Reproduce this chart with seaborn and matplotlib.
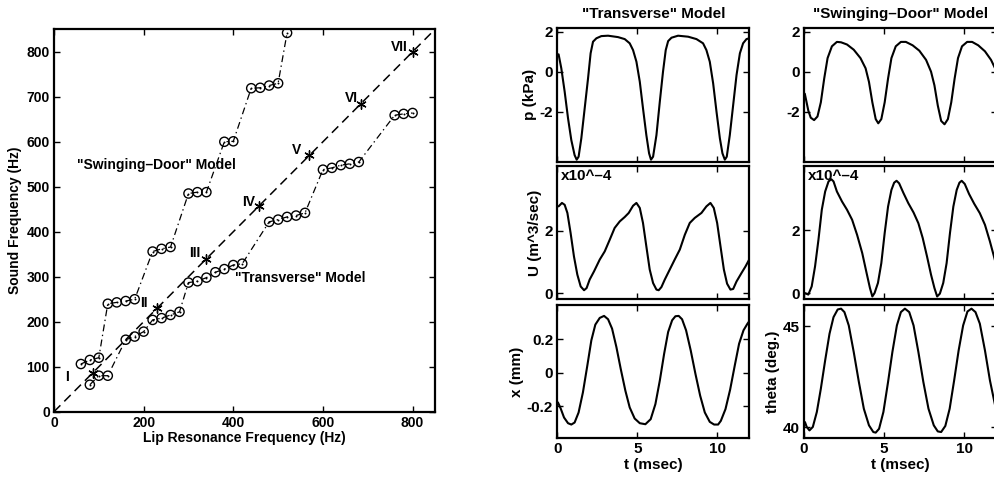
import matplotlib
matplotlib.use("Agg")
import matplotlib.pyplot as plt
import seaborn as sns

# ---------------- lip resonance vs. sound frequency ----------------
door_lip = [60, 80, 100, 120, 140, 160, 180, 220, 240, 260, 300, 320, 340,
            380, 400, 440, 460, 480, 500, 520]
door_sound = [106, 115, 120, 240, 243, 246, 250, 356, 362, 366, 485, 488, 488,
              600, 601, 719, 720, 725, 730, 842]

trans_lip = [80, 100, 120, 160, 180, 200, 220, 240, 260, 280, 300, 320, 340,
             360, 380, 400, 420, 480, 500, 520, 540, 560, 600, 620, 640, 660,
             680, 760, 780, 800]
trans_sound = [60, 80, 80, 160, 167, 178, 204, 208, 215, 222, 287, 290, 298,
               310, 317, 326, 329, 422, 427, 433, 436, 442, 538, 542, 548, 551,
               555, 659, 662, 664]

mode_freq = [87, 230, 340, 457, 570, 685, 800]
mode_names = ["I", "II", "III", "IV", "V", "VI", "VII"]
diag_hz = [0, 850]

# ---------------- "Transverse" model waveforms ----------------
p_trans_t = [0.08, 0.25, 0.46, 0.67, 0.875, 1.08, 1.21, 1.33, 1.5, 1.71, 1.92,
             2.08, 2.23, 2.44, 2.75, 3.17, 3.79, 4.21, 4.52, 4.73, 4.94, 5.15,
             5.35, 5.56, 5.73, 5.85, 5.98, 6.19, 6.4, 6.6, 6.77, 6.92, 7.13,
             7.54, 8.17, 8.69, 9.1, 9.31, 9.52, 9.73, 9.94, 10.15, 10.31,
             10.46, 10.58, 10.77, 10.98, 11.19, 11.4, 11.6, 11.81, 11.98]
p_trans = [0.87, 0.17, -1.0, -2.33, -3.42, -4.17, -4.4, -4.25, -3.33, -1.83,
           -0.33, 0.92, 1.5, 1.67, 1.78, 1.8, 1.73, 1.63, 1.42, 1.08, 0.5,
           -0.5, -1.83, -3.17, -4.08, -4.4, -4.25, -3.17, -1.5, 0.0, 1.08,
           1.53, 1.7, 1.8, 1.75, 1.63, 1.42, 1.08, 0.5, -0.58, -2.0, -3.33,
           -4.08, -4.4, -4.25, -3.17, -1.67, -0.17, 0.92, 1.42, 1.63, 1.67]

u_trans_t = [0.08, 0.29, 0.46, 0.63, 0.83, 1.04, 1.25, 1.46, 1.67, 1.83, 2.02,
             2.29, 2.65, 2.96, 3.27, 3.58, 3.9, 4.21, 4.46, 4.73, 4.94, 5.15,
             5.35, 5.56, 5.77, 5.98, 6.19, 6.33, 6.5, 6.71, 7.02, 7.33, 7.65,
             7.96, 8.27, 8.58, 9.0, 9.31, 9.56, 9.77, 9.98, 10.19, 10.4, 10.6,
             10.81, 10.98, 11.19, 11.5, 11.75, 11.98]
u_trans = [2.78, 2.89, 2.83, 2.57, 1.93, 1.18, 0.6, 0.22, 0.1, 0.17, 0.44,
           0.7, 1.08, 1.34, 1.71, 2.09, 2.3, 2.44, 2.57, 2.8, 2.89, 2.73, 2.25,
           1.5, 0.76, 0.33, 0.12, 0.1, 0.2, 0.44, 0.76, 1.08, 1.4, 1.87, 2.25,
           2.41, 2.57, 2.78, 2.89, 2.73, 2.25, 1.5, 0.76, 0.31, 0.12, 0.14,
           0.38, 0.65, 0.86, 1.08]

x_trans_t = [0.04, 0.21, 0.42, 0.67, 0.875, 1.08, 1.33, 1.6, 1.875, 2.125,
             2.375, 2.65, 2.92, 3.17, 3.42, 3.69, 3.96, 4.25, 4.52, 4.83, 5.15,
             5.5, 5.83, 6.125, 6.4, 6.67, 6.92, 7.17, 7.375, 7.58, 7.79, 8.04,
             8.33, 8.625, 8.92, 9.21, 9.52, 9.79, 10.04, 10.21, 10.5, 10.79,
             11.08, 11.35, 11.625, 11.875, 12.0]
x_trans = [-0.176, -0.212, -0.266, -0.3, -0.308, -0.296, -0.236, -0.116,
           0.044, 0.194, 0.288, 0.328, 0.34, 0.32, 0.264, 0.154, 0.024,
           -0.106, -0.206, -0.272, -0.3, -0.306, -0.276, -0.186, -0.046,
           0.114, 0.244, 0.314, 0.338, 0.34, 0.32, 0.254, 0.134, -0.006,
           -0.136, -0.236, -0.292, -0.308, -0.308, -0.286, -0.216, -0.1,
           0.044, 0.174, 0.254, 0.294, 0.31]

# ---------------- "Swinging-Door" model waveforms ----------------
p_door_t = [0.05, 0.27, 0.42, 0.63, 0.84, 1.05, 1.26, 1.47, 1.74, 2.05, 2.31,
            2.68, 3.1, 3.52, 3.84, 4.05, 4.26, 4.47, 4.63, 4.82, 5.03, 5.24,
            5.45, 5.72, 6.04, 6.35, 6.77, 7.19, 7.61, 7.92, 8.13, 8.34, 8.55,
            8.76, 8.97, 9.18, 9.39, 9.6, 9.85, 10.17, 10.48, 10.86, 11.28,
            11.66, 11.91, 12.0]
p_door = [-1.1, -1.95, -2.3, -2.42, -2.24, -1.53, -0.34, 0.68, 1.27, 1.49,
          1.47, 1.36, 1.1, 0.68, 0.17, -0.51, -1.53, -2.37, -2.58, -2.37,
          -1.53, -0.34, 0.68, 1.27, 1.49, 1.49, 1.32, 1.05, 0.59, 0.0, -0.68,
          -1.69, -2.46, -2.63, -2.37, -1.53, -0.34, 0.68, 1.27, 1.49, 1.49,
          1.32, 1.02, 0.59, 0.17, -0.03]

u_door_t = [0.04, 0.27, 0.48, 0.69, 0.9, 1.11, 1.32, 1.53, 1.7, 1.84, 2.05,
            2.37, 2.68, 3.0, 3.31, 3.63, 3.9, 4.11, 4.26, 4.4, 4.61, 4.82,
            5.03, 5.24, 5.45, 5.62, 5.77, 5.93, 6.2, 6.5, 6.83, 7.13, 7.4,
            7.67, 7.92, 8.13, 8.3, 8.47, 8.68, 8.89, 9.1, 9.31, 9.52, 9.69,
            9.83, 10.02, 10.29, 10.61, 10.96, 11.28, 11.59, 11.87, 12.0]
u_door = [0.01, -0.04, 0.22, 0.86, 1.7, 2.66, 3.24, 3.56, 3.63, 3.56, 3.24,
          2.92, 2.66, 2.34, 1.86, 1.28, 0.65, 0.17, -0.1, 0.01, 0.33, 0.96,
          1.92, 2.76, 3.29, 3.52, 3.58, 3.5, 3.19, 2.87, 2.57, 2.23, 1.76,
          1.17, 0.59, 0.17, -0.1, -0.01, 0.33, 0.96, 1.92, 2.76, 3.29, 3.52,
          3.58, 3.48, 3.16, 2.85, 2.55, 2.18, 1.65, 1.12, 0.86]

theta_door_t = [0.06, 0.17, 0.34, 0.55, 0.8, 1.05, 1.32, 1.59, 1.84, 2.1,
                2.31, 2.52, 2.79, 3.1, 3.42, 3.73, 4.05, 4.32, 4.47, 4.68,
                4.95, 5.24, 5.51, 5.79, 6.04, 6.29, 6.56, 6.83, 7.13, 7.44,
                7.76, 8.09, 8.34, 8.55, 8.81, 9.08, 9.36, 9.64, 9.92, 10.19,
                10.44, 10.69, 10.96, 11.28, 11.59, 11.87, 12.0]
theta_door = [40.26, 40.02, 39.85, 40.02, 40.76, 41.91, 43.31, 44.62, 45.44,
              45.82, 45.86, 45.69, 45.03, 43.72, 42.24, 40.92, 40.1, 39.77,
              39.74, 39.93, 40.76, 42.24, 43.72, 45.03, 45.69, 45.86, 45.69,
              45.03, 43.72, 42.24, 40.92, 40.1, 39.8, 39.77, 40.07, 40.92,
              42.32, 43.8, 45.03, 45.72, 45.86, 45.69, 45.12, 43.8, 42.32,
              41.25, 40.76]

# ---------------- styling ----------------
sns.set_theme(style="ticks")
plt.rcParams["font.family"] = ["Liberation Sans", "DejaVu Sans"]
plt.rcParams["font.weight"] = "bold"
plt.rcParams["axes.labelweight"] = "bold"
plt.rcParams["axes.unicode_minus"] = False
plt.rcParams["axes.linewidth"] = 1.6
plt.rcParams["axes.edgecolor"] = "black"
plt.rcParams["lines.scale_dashes"] = False
plt.rcParams["text.color"] = "black"
plt.rcParams["axes.labelcolor"] = "black"
plt.rcParams["xtick.color"] = "black"
plt.rcParams["ytick.color"] = "black"

W, H = 995, 484
fig = plt.figure(figsize=(W / 100, H / 100), dpi=100)


def px_axes(x0, y0, x1, y1):
    return fig.add_axes([x0 / W, 1 - y1 / H, (x1 - x0) / W, (y1 - y0) / H])


def box_ticks(ax, size):
    ax.tick_params(direction="in", top=True, right=True, length=4, width=1,
                   labelsize=size, pad=3)
    for lab in ax.get_xticklabels() + ax.get_yticklabels():
        lab.set_fontweight("bold")


# ---------------- left panel ----------------
ax = px_axes(54, 29.3, 435, 411.7)
sns.lineplot(x=diag_hz, y=diag_hz, ax=ax, color="black", lw=1.1,
             estimator=None, sort=False)
ax.lines[-1].set_dashes([6.5, 4])
sns.lineplot(x=door_lip, y=door_sound, ax=ax, color="black", lw=0.9,
             estimator=None, sort=False)
ax.lines[-1].set_dashes([5, 2.5, 1, 2.5])
sns.lineplot(x=trans_lip, y=trans_sound, ax=ax, color="black", lw=0.9,
             estimator=None, sort=False)
ax.lines[-1].set_dashes([5, 2.5, 1, 2.5])

for xs, ys in [(door_lip, door_sound), (trans_lip, trans_sound)]:
    sns.scatterplot(x=xs, y=ys, ax=ax, marker="o", s=44, facecolor="none",
                    edgecolor="black", linewidth=1.0, zorder=4)
    sns.scatterplot(x=xs, y=ys, ax=ax, marker="o", s=2, color="black",
                    linewidth=0, zorder=5)

sns.scatterplot(x=mode_freq, y=mode_freq, ax=ax, marker=(6, 2, 0), s=45,
                color="black", edgecolor="black", linewidth=1.0, zorder=5)
label_offsets = [(-25.7, -4.3), (-13.5, 5.7), (-11.2, 6.0), (-10.6, 3.7),
                 (-13.0, 5.7), (-9.8, 5.4), (-13.8, 4.4)]
for f, name, (dx, dy) in zip(mode_freq, mode_names, label_offsets):
    ax.annotate(name, (f, f), xytext=(dx * 0.72, dy * 0.72),
                textcoords="offset points", ha="center", va="center",
                fontsize=10, fontweight="bold")

ax.text(51, 548, "\"Swinging\u2013Door\" Model", ha="left", va="center",
        fontsize=10, fontweight="bold")
ax.text(403, 297, "\"Transverse\" Model", ha="left", va="center",
        fontsize=10, fontweight="bold")

ax.set_xlim(0, 850)
ax.set_ylim(0, 850)
ax.set_xticks([0, 200, 400, 600, 800])
ax.set_yticks([0, 100, 200, 300, 400, 500, 600, 700, 800])
ax.set_xlabel("Lip Resonance Frequency (Hz)", fontsize=10, labelpad=1)
ax.set_ylabel("Sound Frequency (Hz)", fontsize=10, labelpad=3)
box_ticks(ax, 10)

# ---------------- waveform panels ----------------
col_x = [(557.3, 749.5), (804.0, 996.5)]
row_y = [(27.7, 161.7), (165.7, 299.3), (305.0, 438.3)]

panels = [
    [(p_trans_t, p_trans, (-4.5, 2.2), [-2, 0, 2], ["-2", "0", "2"], "p (kPa)"),
     (u_trans_t, u_trans, (-0.19, 4.08), [0, 2], ["0", "2"], "U (m^3/sec)"),
     (x_trans_t, x_trans, (-0.39, 0.405), [-0.2, 0, 0.2],
      ["-0.2", "0", "0.2"], "x (mm)")],
    [(p_door_t, p_door, (-4.5, 2.2), [-2, 0, 2], ["-2", "0", "2"], None),
     (u_door_t, u_door, (-0.19, 4.06), [0, 2], ["0", "2"], None),
     (theta_door_t, theta_door, (39.46, 46.04), [40, 45], ["40", "45"],
      "theta (deg.)")],
]
titles = ["\"Transverse\" Model", "\"Swinging\u2013Door\" Model"]

for c, (x0, x1) in enumerate(col_x):
    for r, (y0, y1) in enumerate(row_y):
        t, v, ylim, yt, ytl, ylab = panels[c][r]
        a = px_axes(x0, y0, x1, y1)
        sns.lineplot(x=t, y=v, ax=a, color="black", lw=1.5,
                     estimator=None, sort=False)
        a.set_xlim(0, 12)
        a.set_ylim(*ylim)
        a.set_xticks([0, 5, 10])
        a.set_yticks(yt)
        a.set_yticklabels(ytl)
        if r < 2:
            a.set_xticklabels([])
            a.set_xlabel("")
        else:
            a.set_xticklabels(["0", "5", "10"])
            a.set_xlabel("t (msec)", fontsize=11, labelpad=1)
        a.set_ylabel(ylab if ylab else "", fontsize=11, labelpad=2)
        if r == 0:
            a.set_title(titles[c], fontsize=11, fontweight="bold", pad=7)
        if r == 1:
            a.text(0.02, 0.975, "x10^\u20134", transform=a.transAxes,
                   ha="left", va="top", fontsize=11, fontweight="bold")
        box_ticks(a, 11)

fig.savefig("out.png", dpi=100)
